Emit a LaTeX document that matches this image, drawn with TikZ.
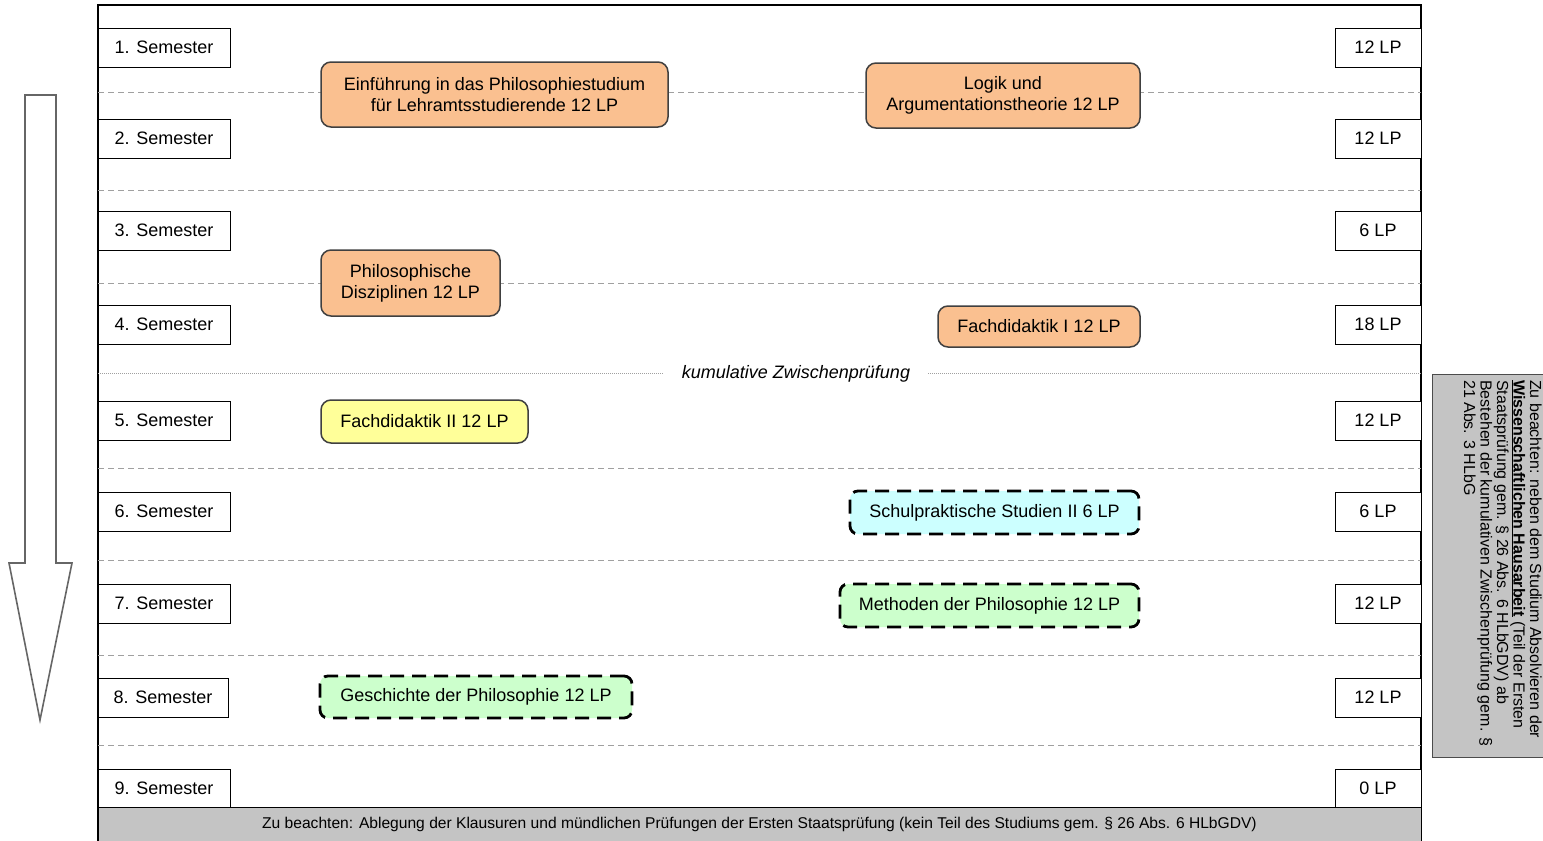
\documentclass[tikz,border=0pt]{standalone}
\usepackage{fontspec}
\setmainfont{Liberation Sans}
\definecolor{orangefill}{HTML}{FAC090}
\definecolor{yellowfill}{HTML}{FFFF99}
\definecolor{cyanfill}{HTML}{CCFFFF}
\definecolor{greenfill}{HTML}{CCFFCC}
\definecolor{greybar}{HTML}{C4C4C4}
\definecolor{sepgrey}{HTML}{A0A0A0}
\tikzset{
  boxfont/.style={font=\fontsize{18}{21}\selectfont},
  sembox/.style={boxfont, draw=black, line width=1pt, fill=white, minimum width=132pt, minimum height=39pt, inner sep=0pt},
  lpbox/.style={sembox, minimum width=86pt},
  modbox/.style={boxfont, rounded corners=10pt, draw=black!75, line width=1.5pt, align=center, inner sep=0pt},
  orangebox/.style={modbox, fill=orangefill},
  yellowbox/.style={modbox, fill=yellowfill},
  dashbox/.style={boxfont, rounded corners=8pt, draw=black, line width=2.8pt, dash pattern=on 14pt off 8pt, align=center, inner sep=0pt},
  sepline/.style={draw=sepgrey, line width=1pt, dash pattern=on 6pt off 4pt},
  zpline/.style={draw=sepgrey, line width=0.8pt, dash pattern=on 1pt off 1pt},
}
\begin{document}
\begin{tikzpicture}[x=1pt,y=-1pt]
\useasboundingbox (0,0) rectangle (1543,841);

% big downward arrow
\draw[draw=black!60, line width=1.6pt, fill=white, line join=miter]
  (25,95) -- (56,95) -- (56,563) -- (72,563) -- (40,720) -- (9,563) -- (25,563) -- cycle;

% frame
\draw[line width=1.3pt, fill=white] (98,5) rectangle (1421,850);

% separator lines
\foreach \yy in {92,190,283,468,560,655,745} {
  \draw[sepline] (98,\yy) -- (1421,\yy);
}

% kumulative Zwischenpruefung
\node[boxfont, inner xsep=18pt, inner ysep=0pt] (kz) at (796,374) {\itshape kumulative Zwischenprüfung};
\coordinate (kzl) at (98,373);
\coordinate (kzr) at (1421,373);
\draw[zpline] (kzl) -- (kz.west |- kzl);
\draw[zpline] (kz.east |- kzr) -- (kzr);

% semester boxes
\node[sembox] (s1) at (164,47.5) {1. Semester};
\node[sembox] (s2) at (164,138.5) {2. Semester};
\node[sembox] (s3) at (164,230.5) {3. Semester};
\node[sembox] (s4) at (164,324.5) {4. Semester};
\node[sembox] (s5) at (164,420.5) {5. Semester};
\node[sembox] (s6) at (164,511.5) {6. Semester};
\node[sembox] (s7) at (164,603.5) {7. Semester};
\node[sembox, minimum width=130pt] (s8) at (163,697.5) {8. Semester};
\node[sembox, minimum height=38pt] (s9) at (164,788) {9. Semester};

% LP boxes
\node[lpbox] (l1) at (1378,47.5) {12 LP};
\node[lpbox] (l2) at (1378,138.5) {12 LP};
\node[lpbox] (l3) at (1378,230.5) {6 LP};
\node[lpbox] (l4) at (1378,324.5) {18 LP};
\node[lpbox] (l5) at (1378,420.5) {12 LP};
\node[lpbox] (l6) at (1378,511.5) {6 LP};
\node[lpbox] (l7) at (1378,603.5) {12 LP};
\node[lpbox] (l8) at (1378,697.5) {12 LP};
\node[lpbox, minimum height=38pt] (l9) at (1378,788) {0 LP};

% module boxes
\node[orangebox, minimum width=347pt, minimum height=65pt] (m1) at (494.5,94.5)
  {Einführung in das Philosophiestudium\\für Lehramtsstudierende 12 LP};
\node[orangebox, minimum width=274pt, minimum height=65pt] (m2) at (1003,95.5)
  {Logik und\\Argumentationstheorie 12 LP};
\node[orangebox, minimum width=179pt, minimum height=66pt] (m3) at (410.5,283)
  {Philosophische\\Disziplinen 12 LP};
\node[orangebox, minimum width=202pt, minimum height=41pt] (m4) at (1039,326.5)
  {Fachdidaktik I 12 LP};
\node[yellowbox, minimum width=207pt, minimum height=43pt] (m5) at (424.5,421.5)
  {Fachdidaktik II 12 LP};
\node[dashbox, fill=cyanfill, minimum width=289pt, minimum height=43pt] (m6) at (994.5,512.5)
  {Schulpraktische Studien II 6 LP};
\node[dashbox, fill=greenfill, minimum width=299pt, minimum height=43pt] (m7) at (989.5,605.5)
  {Methoden der Philosophie 12 LP};
\node[dashbox, fill=greenfill, minimum width=312pt, minimum height=42pt] (m8) at (476,697)
  {Geschichte der Philosophie 12 LP};

% bottom bar
\node[draw=black, line width=1.2pt, fill=greybar, minimum width=1323pt, minimum height=44pt, anchor=north west, inner sep=0pt] (bar) at (98,807) {};
\node[font=\fontsize{15.6}{18}\selectfont, inner sep=0pt] (bartext) at (759.5,824)
  {Zu beachten: Ablegung der Klausuren und mündlichen Prüfungen der Ersten Staatsprüfung (kein Teil des Studiums gem. § 26 Abs. 6 HLbGDV)};

% right note box
\node[draw=black!70, line width=1.3pt, fill=greybar, minimum width=125pt, minimum height=383pt, anchor=north west, inner sep=0pt] (note) at (1432,374) {};
\node[rotate=-90, anchor=north west, inner sep=0pt, align=left, font=\fontsize{16}{16.5}\selectfont] (notetext) at (1542,380)
  {Zu beachten: neben dem Studium Absolvieren der\\
   \underline{\textbf{Wissenschaftlichen Hausarbeit}} (Teil der Ersten\\
   Staatsprüfung gem. § 26 Abs. 6 HLbGDV) ab\\
   Bestehen der kumulativen Zwischenprüfung gem. §\\
   21 Abs. 3 HLbG};
\end{tikzpicture}
\end{document}
